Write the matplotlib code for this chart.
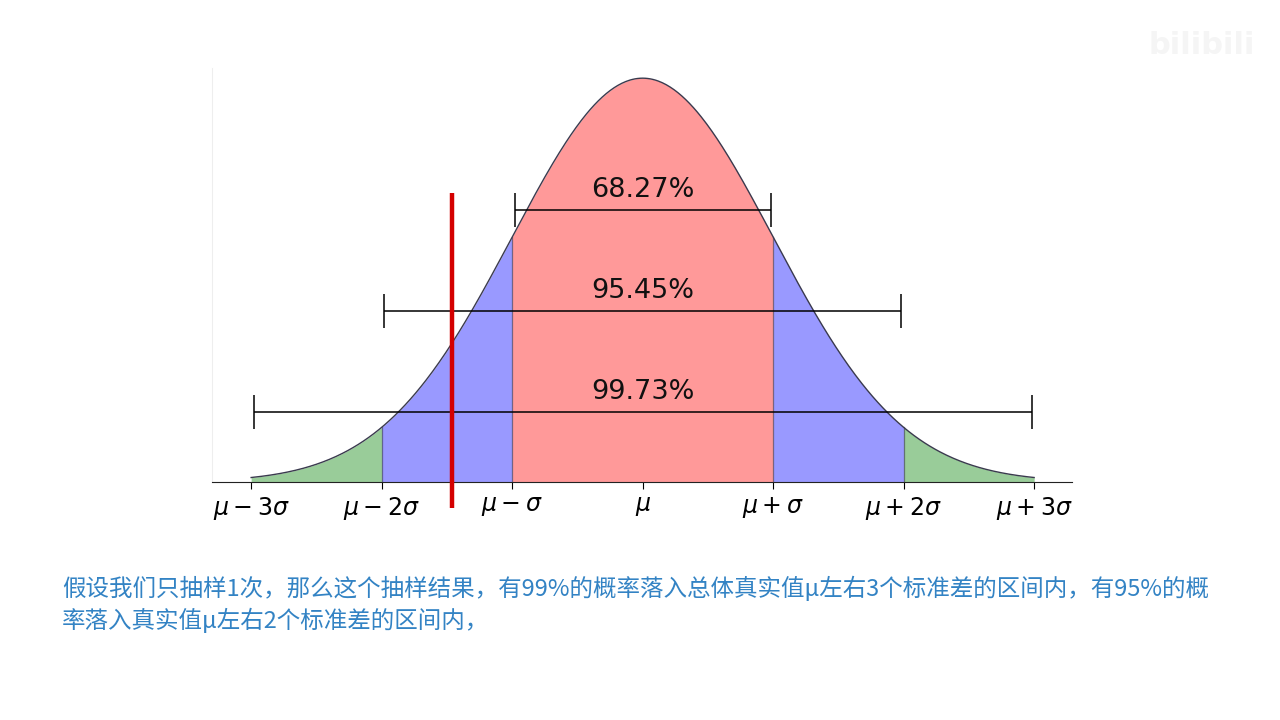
import numpy as np
import matplotlib.pyplot as plt

# tick positions (in sigma) and their labels
tick_pos = [-3, -2, -1, 0, 1, 2, 3]
tick_labels = [r'$\mu - 3\sigma$', r'$\mu - 2\sigma$', r'$\mu - \sigma$', r'$\mu$',
               r'$\mu + \sigma$', r'$\mu + 2\sigma$', r'$\mu + 3\sigma$']

# coverage intervals: half-width in sigma, bar height, label
band_k = [0.98, 1.98, 2.98]
band_y = [0.269, 0.169, 0.069]
band_txt = ['68.27%', '95.45%', '99.73%']

sample_x = -1.46  # the red sample line

note = ('假设我们只抽样1次，那么这个抽样结果，有99%的概率落入总体真实值μ左右3个标准差的区间内，有95%的概\n'
        '率落入真实值μ左右2个标准差的区间内，')

fig = plt.figure(figsize=(12.8, 7.2), dpi=100)
ax = fig.add_axes([212/1280, 1-482/720, 860/1280, 414/720])

x = np.linspace(-3, 3, 601)
pdf = np.exp(-x**2/2)/np.sqrt(2*np.pi)

edge = '#3a3a4e'
ax.plot(x, pdf, color=edge, lw=1.0)
# fills
for lo, hi, col in [(-3, -2, 'g'), (-2, -1, 'b'), (-1, 1, 'r'), (1, 2, 'b'), (2, 3, 'g')]:
    m = (x >= lo - 1e-9) & (x <= hi + 1e-9)
    ax.fill_between(x[m], 0, pdf[m], color=col, alpha=0.4, lw=0)
for v in [-2, -1, 1, 2]:
    ax.plot([v, v], [0, np.exp(-v**2/2)/np.sqrt(2*np.pi)], color=edge, lw=0.9, alpha=0.6)

for k, y, t in zip(band_k, band_y, band_txt):
    ax.errorbar([0], [y], xerr=[[k], [k]], color='black', lw=1.1, capsize=12.5, capthick=1.1)
    ax.text(0, y + 0.007, t, ha='center', va='bottom', fontsize=19.5, color='#111111')

ax.plot([sample_x, sample_x], [-0.026, 0.286], color='#d40000', lw=3.2,
        solid_capstyle='butt', clip_on=False, zorder=5)

ax.set_xlim(-3.3, 3.29)
ax.set_ylim(0, 0.409)
ax.set_xticks(tick_pos)
ax.set_xticklabels(tick_labels, fontsize=17)
ax.set_yticks([])
ax.tick_params(axis='x', length=5, pad=4)
ax.spines['top'].set_visible(False)
ax.spines['right'].set_visible(False)
ax.spines['left'].set_color('#eeeeee')
ax.spines['bottom'].set_color('#222222')

fig.text(62/1280, 1-576/720, note, fontsize=16.95, color='#3383c4', va='top', ha='left',
         family=['Noto Sans CJK SC', 'DejaVu Sans'], linespacing=1.3)

fig.text(1255/1280, 1-45/720, 'bilibili', fontsize=22, color='#f5f5f5', ha='right', va='center',
         fontweight='bold')

fig.savefig('out.png', dpi=100)
